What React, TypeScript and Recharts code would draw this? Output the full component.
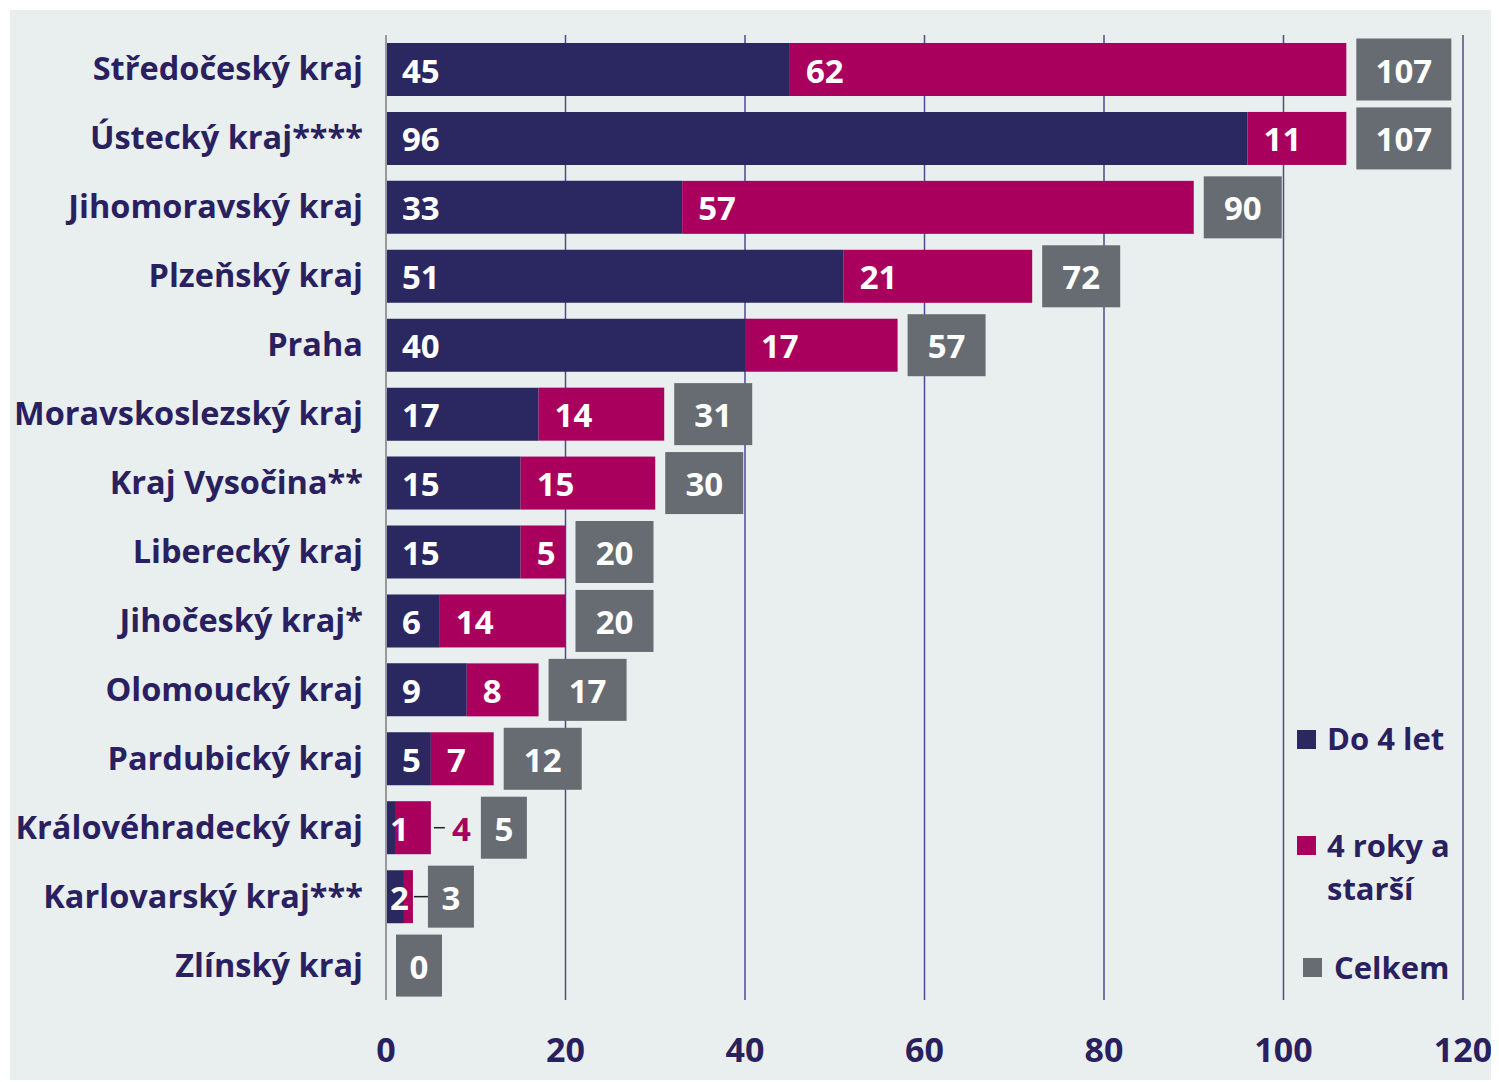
import React from "react";
import { BarChart, Bar, XAxis, YAxis, CartesianGrid, Legend } from "recharts";

const categories = [
  "Středočeský kraj",
  "Ústecký kraj****",
  "Jihomoravský kraj",
  "Plzeňský kraj",
  "Praha",
  "Moravskoslezský kraj",
  "Kraj Vysočina**",
  "Liberecký kraj",
  "Jihočeský kraj*",
  "Olomoucký kraj",
  "Pardubický kraj",
  "Královéhradecký kraj",
  "Karlovarský kraj***",
  "Zlínský kraj",
];
const do4let = [45, 96, 33, 51, 40, 17, 15, 15, 6, 9, 5, 1, 2, 0];
const starsi = [62, 11, 57, 21, 17, 14, 15, 5, 14, 8, 7, 4, 1, 0];
const celkem = [107, 107, 90, 72, 57, 31, 30, 20, 20, 17, 12, 5, 3, 0];
const xTicks = [0, 20, 40, 60, 80, 100, 120];

const seriesNames = ["Do 4 let", "4 roky a starší", "Celkem"];

const NAVY = "#2B2760";
const MAGENTA = "#A8005C";
const GREY = "#676B72";
const TEXT = "#2A1F5F";
const BG = "#E9EFEF";
const FONT = "'Open Sans', 'Noto Sans', sans-serif";

const data = categories.map((name, i) => ({
  name,
  do4let: do4let[i],
  starsi: starsi[i],
  celkem: celkem[i],
}));

const boxWidth = (v: number) => {
  const d = String(v).length;
  return d === 1 ? 46 : d === 2 ? 78 : 95;
};

const NUM_SIZE = 33;

const MagentaShape = (props: any) => {
  const { x, y, width, height, index } = props;
  const entry = props.payload && props.payload.name ? props.payload : data[index];
  const cy = y + height / 2;
  const base = cy + 13;
  const mag = entry.starsi;
  const nav = entry.do4let;
  const unit = mag > 0 ? width / mag : 0;
  const navW = nav * unit;
  const navX = x - navW;
  const els: any[] = [];
  els.push(<rect key="r" x={x} y={y} width={Math.max(0, width)} height={height} fill={MAGENTA} />);
  if (nav > 0) {
    els.push(
      <text key="nl" x={navX + (navW >= 30 ? 16 : 4)} y={base} fill="#fff" fontSize={NUM_SIZE} fontWeight={700} fontFamily={FONT}>
        {nav}
      </text>
    );
  }
  const end = x + width;
  let boxX = end + 10;
  if (mag > 0) {
    if (navW >= 30) {
      els.push(
        <text key="ml" x={x + 16} y={base} fill="#fff" fontSize={NUM_SIZE} fontWeight={700} fontFamily={FONT}>
          {mag}
        </text>
      );
    } else if (width >= 20) {
      els.push(<line key="ll" x1={end + 3} x2={end + 14} y1={cy} y2={cy} stroke="#222" strokeWidth={1.5} />);
      els.push(
        <text key="ml" x={end + 21} y={base} fill={MAGENTA} fontSize={NUM_SIZE} fontWeight={700} fontFamily={FONT}>
          {mag}
        </text>
      );
      boxX = end + 50;
    } else {
      els.push(<line key="ll" x1={end + 1} x2={end + 15} y1={cy} y2={cy} stroke="#222" strokeWidth={1.5} />);
      boxX = end + 15;
    }
  }
  const bw = boxWidth(entry.celkem);
  els.push(<rect key="b" x={boxX} y={cy - 31} width={bw} height={62} fill={GREY} />);
  els.push(
    <text key="bt" x={boxX + bw / 2} y={base} fill="#fff" fontSize={NUM_SIZE} fontWeight={700} fontFamily={FONT} textAnchor="middle">
      {entry.celkem}
    </text>
  );
  return <g>{els}</g>;
};

const YTick = (props: any) => {
  const { x, y, payload } = props;
  return (
    <text x={x} y={y + 11} textAnchor="end" fill={TEXT} fontSize={32.5} fontWeight={700} fontFamily={FONT}>
      {payload.value}
    </text>
  );
};

const XTick = (props: any) => {
  const { x, y, payload } = props;
  return (
    <text x={x} y={y + 62} textAnchor="middle" fill={TEXT} fontSize={34} fontWeight={700} fontFamily={FONT}>
      {payload.value}
    </text>
  );
};

const LegendContent = () => {
  const txt: React.CSSProperties = {
    position: "absolute",
    color: TEXT,
    fontFamily: FONT,
    fontWeight: 700,
    fontSize: 31,
    lineHeight: "43px",
    whiteSpace: "nowrap",
  };
  const sq = (c: string): React.CSSProperties => ({ position: "absolute", width: 19, height: 19, background: c });
  return (
    <div style={{ position: "relative", width: 0, height: 0, overflow: "visible" }}>
      <div style={{ ...sq(NAVY), left: 0, top: 20 }} />
      <div style={{ ...txt, left: 30, top: 7 }}>{seriesNames[0]}</div>
      <div style={{ ...sq(MAGENTA), left: 0, top: 126 }} />
      <div style={{ ...txt, left: 30, top: 114 }}>
        4 roky a
        <br />
        starší
      </div>
      <div style={{ ...sq(GREY), left: 6, top: 248 }} />
      <div style={{ ...txt, left: 37, top: 236 }}>{seriesNames[2]}</div>
    </div>
  );
};

export default function App() {
  return (
    <div style={{ marginLeft: 2, marginTop: 2, width: 1487, height: 1070, background: BG }}>
      <BarChart
        width={1487}
        height={1070}
        data={data}
        layout="vertical"
        margin={{ top: 25, right: 34, bottom: 0, left: 0 }}
        barCategoryGap={16}
      >
        <CartesianGrid horizontal={false} vertical={true} stroke="#4E4A8C" strokeWidth={1.5} />
        <XAxis
          type="number"
          domain={[0, 120]}
          ticks={xTicks}
          axisLine={false}
          tickLine={false}
          tickSize={0}
          tickMargin={0}
          height={80}
          tick={<XTick />}
          interval={0}
        />
        <YAxis
          type="category"
          dataKey="name"
          width={376}
          axisLine={{ stroke: "#9A9A9A", strokeWidth: 2 }}
          tickLine={false}
          tickSize={0}
          tickMargin={23}
          tick={<YTick />}
          interval={0}
        />
        <Legend
          content={<LegendContent />}
          wrapperStyle={{ position: "absolute", left: 1287, top: 700, width: 0, height: 0, bottom: "auto" }}
        />
        <Bar dataKey="do4let" name={seriesNames[0]} stackId="a" fill={NAVY} barSize={53} isAnimationActive={false} />
        <Bar
          dataKey="starsi"
          name={seriesNames[1]}
          stackId="a"
          fill={MAGENTA}
          barSize={53}
          isAnimationActive={false}
          shape={<MagentaShape />}
        />
      </BarChart>
    </div>
  );
}
